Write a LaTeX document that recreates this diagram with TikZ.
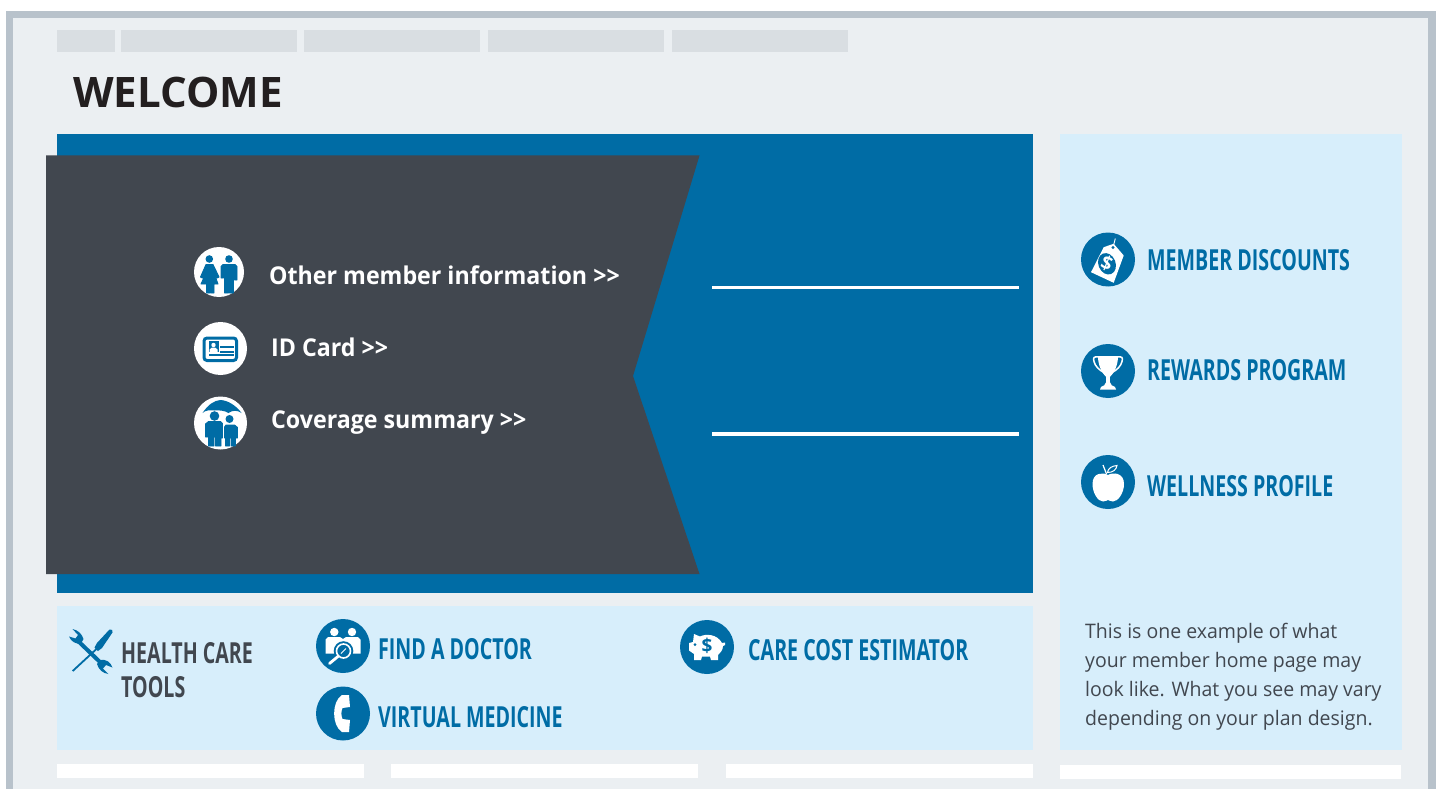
\documentclass[tikz,border=0pt]{standalone}
\usepackage{fontspec}
\setmainfont{Open Sans}
\newfontfamily\headfont[FakeStretch=1.0]{Open Sans}
\newfontfamily\linkfont[FakeStretch=0.947]{Open Sans}
\newfontfamily\condfont[FakeStretch=0.677]{Open Sans}
\newfontfamily\parafont[FakeStretch=0.975]{Open Sans}
\definecolor{frameC}{HTML}{B8C2CB}
\definecolor{pageC}{HTML}{EBEFF2}
\definecolor{menuC}{HTML}{D9DEE2}
\definecolor{blueC}{HTML}{006CA5}
\definecolor{darkC}{HTML}{41474F}
\definecolor{paleC}{HTML}{D7EEFB}
\definecolor{inkC}{HTML}{231F20}
\tikzset{
  menubar/.style={fill=menuC,draw=none},
  strip/.style={fill=white,draw=none},
  pale/.style={fill=paleC,draw=none},
  titletext/.style={anchor=base west,inner sep=0pt,text=inkC,font=\headfont\bfseries\fontsize{42}{42}\selectfont},
  linktext/.style={anchor=base west,inner sep=0pt,text=white,font=\linkfont\bfseries\fontsize{24.5}{24.5}\selectfont},
  condtext/.style={anchor=base west,inner sep=0pt,text=blueC,font=\condfont\bfseries\fontsize{29}{29}\selectfont},
  paratext/.style={anchor=base west,inner sep=0pt,text=darkC,font=\parafont\fontsize{20}{20}\selectfont},
  figure/.style={fill=blueC,draw=blueC,line width=0.9pt,line join=round},
}
\begin{document}
\begin{tikzpicture}[x=1pt,y=-1pt]
\useasboundingbox (0,0) rectangle (1441,789);
\fill[white] (0,0) rectangle (1441,789);
% frame
\fill[frameC] (6,11.5) rectangle (1435.5,789);
\fill[pageC] (12.7,18) rectangle (1428.3,789);
% menu
\fill[menubar] (57,30) rectangle (115,52);
\fill[menubar] (121,30) rectangle (297,52);
\fill[menubar] (304,30) rectangle (480,52);
\fill[menubar] (488,30) rectangle (664,52);
\fill[menubar] (672,30) rectangle (848,52);
\node[titletext] (welcome) at (73,108) {WELCOME};
% panels
\fill[blueC] (57,134) rectangle (1033,593);
\fill[darkC] (46,155.5) -- (699.5,155.5) -- (633,376) -- (699.5,574) -- (46,574) -- cycle;
\fill[white] (712,285.5) rectangle (1018.5,289);
\fill[white] (712,432) rectangle (1018.5,435.5);
\fill[pale] (1060,134) rectangle (1402,750);
\fill[pale] (57,606) rectangle (1033,750);
\fill[strip] (57,764) rectangle (364,778);
\fill[strip] (391,764) rectangle (698,778);
\fill[strip] (726,764) rectangle (1033,778);
\fill[strip] (1060,765) rectangle (1401,779);
% couple icon
\begin{scope}[shift={(219,272)}]
\fill[white] (0,0) circle (25);
\fill[blueC] (-9.7,-13) circle (3.8) (10,-13) circle (3.8);
\fill[figure] (-13,-7.5) -- (-6,-7.5) -- (0,5) -- (-2,6) -- (-5,1) -- (-1,12) -- (-5,12) -- (-5,21) -- (-8.3,21) -- (-8.3,12) -- (-9,12) -- (-9,21) -- (-12.5,21) -- (-12.5,12) -- (-18,12) -- (-13,1) -- (-16.5,6) -- (-18.5,5) -- cycle;
\fill[figure] (4,-7.5) -- (16,-7.5) -- (18,-5.5) -- (18,8) -- (15.5,8) -- (15.5,-3) -- (14.5,-3) -- (14.5,21) -- (10.5,21) -- (10.5,8) -- (9.5,8) -- (9.5,21) -- (5.5,21) -- (5.5,-3) -- (4.5,-3) -- (4.5,6) -- (2,6) -- (2,-5.5) -- cycle;
\end{scope}
% id card icon
\begin{scope}[shift={(220.5,348.5)}]
\fill[white] (0,0) circle (26.5);
\draw[blueC,line width=3pt,rounded corners=3pt] (-16.5,-10.5) rectangle (16,12);
\fill[blueC] (-12,-7.5) rectangle (-2,3.5);
\fill[white] (-7,-3.5) circle (2.2);
\fill[white] (-11,3.5) -- (-11,1) -- (-8.5,-1) -- (-5.5,-1) -- (-3,1) -- (-3,3.5) -- cycle;
\fill[blueC] (-0.5,-2.2) rectangle (13,-0.4);
\fill[blueC] (-0.5,2.2) rectangle (13,4);
\fill[blueC] (-12,5.8) rectangle (13,7.6);
\end{scope}
% umbrella icon
\begin{scope}[shift={(220.5,423)}]
\fill[white] (0,0) circle (26.5);
\fill[blueC] (-18,-10) .. controls (-12,-19) and (-6,-22.5) .. (0,-23) .. controls (8,-22.5) and (16,-17) .. (21,-10) .. controls (17,-13) and (12,-13) .. (8,-10) .. controls (5,-12.5) and (-3,-13) .. (-6,-12.5) .. controls (-10,-13) and (-15,-13) .. (-18,-10) -- cycle;
\fill[blueC] (-6,-7) circle (4.8) (9,-4) circle (4);
\fill[figure] (-12,-1.5) -- (0,-1.5) -- (2,0.5) -- (2,15) -- (0.5,15) -- (0.5,23) -- (-5,23) -- (-5,14) -- (-6.5,14) -- (-6.5,23) -- (-12,23) -- (-12,14) -- (-15,14) -- (-15,1) -- cycle;
\fill[figure] (5.5,2) -- (14,2) -- (17,4.5) -- (17,15) -- (15,15) -- (15,23) -- (10.5,23) -- (10.5,15) -- (9,15) -- (9,23) -- (5,23) -- (5,15) -- (4,15) -- (4,4) -- cycle;
\end{scope}
\node[linktext] (other) at (269,284) {Other member information >>};
\node[linktext] (idcard) at (271,356) {ID Card >>};
\node[linktext] (coverage) at (271,428) {Coverage summary >>};
% tag icon
\begin{scope}[shift={(1108,259.5)}]
\fill[blueC] (0,0) circle (27);
\fill[white] (-17,12.7) -- (5.7,23.3) -- (15.7,-4) -- (5.7,-15.7) -- (-4.3,-12.3) -- cycle;
\draw[white,line width=0.9pt] (5,-12) -- (7.3,-21);
\fill[blueC] (5,-12) circle (1.6);
\fill[blueC,rotate around={22:(-1,4.3)}] (-1,4.3) ellipse (8.6 and 11);
\node[rotate=-22,text=white,font=\bfseries\fontsize{19}{19}\selectfont,inner sep=0pt] (tagd) at (-1,4.3) {\$};
\end{scope}
% trophy icon
\begin{scope}[shift={(1108,371)}]
\fill[blueC] (0,0) circle (27);
\draw[white,line width=1.5pt] (-9,-14.2) .. controls (-14.5,-14.5) and (-15,-13.5) .. (-14,-9.5) .. controls (-13,-5) and (-9,-1) .. (-4,1.5);
\draw[white,line width=1.5pt] (9,-14.2) .. controls (14.5,-14.5) and (15,-13.5) .. (14,-9.5) .. controls (13,-5) and (9,-1) .. (4,1.5);
\fill[white] (-10,-15) -- (10,-15) .. controls (10,-4) and (5,3) .. (1.8,6) -- (1.8,11) .. controls (2,14) and (5,15) .. (7,16) -- (8,18.5) -- (-8,18.5) -- (-7,16) .. controls (-5,15) and (-2,14) .. (-1.8,11) -- (-1.8,6) .. controls (-5,3) and (-10,-4) .. (-10,-15) -- cycle;
\end{scope}
% apple icon
\begin{scope}[shift={(1108,482)}]
\fill[blueC] (0,0) circle (27);
\fill[white] (0,-7) .. controls (-5,-10) and (-15.5,-9.5) .. (-15.5,2) .. controls (-15.5,11) and (-10,19.5) .. (-5,19.5) .. controls (-2,19.5) and (-1,18) .. (0,18) .. controls (1,18) and (2,19.5) .. (5,19.5) .. controls (10,19.5) and (16,11) .. (16,2) .. controls (16,-9.5) and (5,-10) .. (0,-7) -- cycle;
\draw[white,line width=1.2pt] (-5,-17) -- (-1.5,-8);
\draw[white,line width=1pt] (-0.5,-9.5) .. controls (0,-14) and (4,-16) .. (9,-16.5) .. controls (8.5,-12.5) and (5,-9.5) .. (-0.5,-9.5) -- cycle;
\end{scope}
\node[condtext] (discounts) at (1147,270) {MEMBER DISCOUNTS};
\node[condtext] (rewards) at (1147,380) {REWARDS PROGRAM};
\node[condtext] (wellness) at (1147,496) {WELLNESS PROFILE};
% paragraph
\node[paratext] (p1) at (1085,638) {This is one example of what};
\node[paratext] (p2) at (1085,667) {your member home page may};
\node[paratext] (p3) at (1085,696) {look like. What you see may vary};
\node[paratext] (p4) at (1085,725) {depending on your plan design.};
% tools icon
\fill[blueC] (109.5,629.5) .. controls (111.5,628.5) and (113.5,630.5) .. (112.5,632.5) -- (102,648) -- (98,651) -- (94.5,647.5) -- (97,643) -- cycle;
\draw[blueC,line width=1.8pt] (97,648.5) -- (72.7,671);
\draw[blueC,line width=4pt] (77,640) -- (101,663);
\fill[blueC] (69,636.5) .. controls (71,641.5) and (76,644.5) .. (81,643.5) -- (83.5,639) .. controls (82,634) and (78,630) .. (72.5,629) -- (78,635) -- (75.5,638.5) -- cycle;
\fill[blueC] (112.5,667.5) .. controls (110.5,662) and (106,659) .. (100.5,660) -- (97,664) .. controls (98.5,669.5) and (103,673.5) .. (108.5,674) -- (103,668.5) -- (106,665) -- cycle;
% doctor icon
\begin{scope}[shift={(343,646)}]
\fill[blueC] (0,0) circle (27);
\fill[white] (-8.7,-14) circle (4.2) (9,-14) circle (4.2);
\fill[white] (-15,-9) -- (-3,-9) -- (0,-7) -- (3,-9) -- (15,-9) -- (17.5,-6.5) -- (17.5,7.5) -- (-17.5,7.5) -- (-17.5,-6.5) -- cycle;
\fill[blueC] (0.5,5) circle (9.8);
\draw[white,line width=1.6pt] (0.5,5) circle (7);
\draw[white,line width=2.8pt,line cap=round] (-4.7,10.2) -- (-13.5,17.5);
\draw[white,line width=0.9pt] (-2,7.5) -- (3,2.5);
\end{scope}
% phone icon
\begin{scope}[shift={(343,713.5)}]
\fill[blueC] (0,0) circle (27);
\fill[white] (-1,-18.5) -- (6,-18.5) -- (7,-6.5) -- (-0.5,-5.5) .. controls (-2,-2) and (-2,2) .. (-0.5,5.5) -- (7,6.5) -- (6,18.5) -- (-1,18.5) .. controls (-11.5,12) and (-11.5,-12) .. (-1,-18.5) -- cycle;
\end{scope}
% piggy icon
\begin{scope}[shift={(707,647)}]
\fill[blueC] (0,0) circle (27);
\fill[white] (-13,-13) -- (-7,-10.5) .. controls (-1,-13.5) and (10,-13) .. (15,-4) -- (18,-4.5) -- (18,-2) -- (16,-1) .. controls (16,3) and (13,6) .. (11,8) -- (11,13) -- (4,13) -- (3,9.5) -- (-5,9.5) -- (-6,13) -- (-13,13) -- (-13,7) -- (-18,3.5) -- (-18,-4) -- (-14,-5) -- cycle;
\fill[blueC] (-12,-2.3) circle (1.5);
\node[text=blueC,font=\bfseries\fontsize{19}{19}\selectfont,inner sep=0pt] (pigd) at (0,-1) {\$};
\end{scope}
\node[condtext,text=darkC] (hc1) at (121,663) {HEALTH CARE};
\node[condtext,text=darkC] (hc2) at (121,697) {TOOLS};
\node[condtext] (find) at (378,659) {FIND A DOCTOR};
\node[condtext] (virtual) at (378,727) {VIRTUAL MEDICINE};
\node[condtext] (care) at (748,660) {CARE COST ESTIMATOR};
\end{tikzpicture}
\end{document}
